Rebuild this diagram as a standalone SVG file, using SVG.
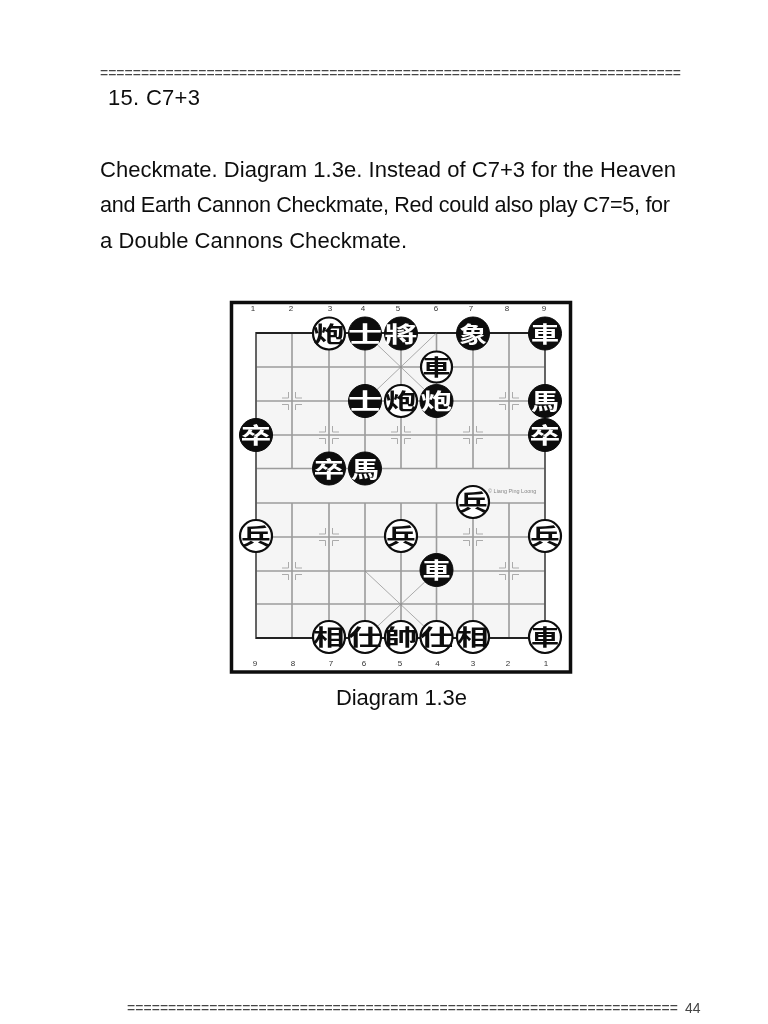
<svg xmlns="http://www.w3.org/2000/svg" width="768" height="1024" viewBox="0 0 768 1024">
<style>
.t{font-family:"Liberation Sans",Arial,sans-serif;fill:#111}
.b{font-size:22px}
.eq{font-size:14px;fill:#444}
.n{font-family:"Liberation Sans",Arial,sans-serif;font-size:8px;fill:#333;text-anchor:middle}
.g{stroke:#9c9c9c;stroke-width:1.6;fill:none}
.d{stroke:#8a8a8a;stroke-width:.7;fill:none}
.m{stroke:#ababab;stroke-width:1;fill:none}
.pb{fill:#0a0a0a;stroke:#0a0a0a;stroke-width:1}
.pw{fill:#fff;stroke:#0a0a0a;stroke-width:2.2}
.lb,.lw{font-family:"Noto Sans CJK TC","Noto Sans CJK SC",sans-serif;font-size:28px;font-weight:700;text-anchor:middle}
.lb{fill:#fff}.lw{fill:#0a0a0a}
</style>
<defs><filter id="soft" x="-5%" y="-5%" width="110%" height="110%"><feGaussianBlur stdDeviation="0.35"/></filter></defs>
<rect width="768" height="1024" fill="#fff"/>
<g filter="url(#soft)">
<text class="t eq" x="100" y="77.500" textLength="581" lengthAdjust="spacing">=======================================================================</text>
<text class="t b" x="108" y="105" textLength="92" lengthAdjust="spacing">15. C7+3</text>
<text class="t b" x="100" y="176.500" textLength="576" lengthAdjust="spacing">Checkmate. Diagram 1.3e. Instead of C7+3 for the Heaven</text>
<text class="t b" x="100" y="212" style="font-size:21.600px" textLength="570" lengthAdjust="spacing">and Earth Cannon Checkmate, Red could also play C7=5, for</text>
<text class="t b" x="100" y="248" textLength="307" lengthAdjust="spacing">a Double Cannons Checkmate.</text>
<g id="board">
<rect x="231.500" y="302.500" width="339" height="369.500" fill="#fff" stroke="#111" stroke-width="3.500"/>
<rect x="256" y="333" width="289" height="305" fill="#f5f5f5"/>
<g>
<text class="n" x="253" y="311">1</text><text class="n" x="291" y="311">2</text><text class="n" x="330" y="311">3</text><text class="n" x="363" y="311">4</text><text class="n" x="398" y="311">5</text><text class="n" x="436" y="311">6</text><text class="n" x="471" y="311">7</text><text class="n" x="507" y="311">8</text><text class="n" x="544" y="311">9</text>
<text class="n" x="255" y="666">9</text><text class="n" x="293" y="666">8</text><text class="n" x="331" y="666">7</text><text class="n" x="364" y="666">6</text><text class="n" x="400" y="666">5</text><text class="n" x="437.500" y="666">4</text><text class="n" x="473" y="666">3</text><text class="n" x="508" y="666">2</text><text class="n" x="546" y="666">1</text>
</g>
<path class="g" d="M256 367H545M256 401H545M256 435H545M256 468.500H545M256 503H545M256 537H545M256 571H545M256 604H545"/>
<path class="g" d="M292 333V468.500M329 333V468.500M365 333V468.500M401 333V468.500M436.500 333V468.500M473 333V468.500M509 333V468.500M292 503V638M329 503V638M365 503V638M401 503V638M436.500 503V638M473 503V638M509 503V638"/>
<path d="M256 638V333H545V638Z" fill="none" stroke="#555" stroke-width="1.800"/>
<path d="M256 333H545M256 638H545" fill="none" stroke="#222" stroke-width="2"/>
<path class="d" d="M365 333L436.500 401M436.500 333L365 401M365 571L436.500 638M436.500 571L365 638"/>
<g class="m">
<path d="M282 398H288.500V392M295.500 392V398H302M282 404.500H288.500V410M295.500 410V404.500H302"/>
<path d="M499 398H505.500V392M512.500 392V398H519M499 404.500H505.500V410M512.500 410V404.500H519"/>
<path d="M319 432H325.500V426M332.500 426V432H339M319 438.500H325.500V444M332.500 444V438.500H339"/>
<path d="M391 432H397.500V426M404.500 426V432H411M391 438.500H397.500V444M404.500 444V438.500H411"/>
<path d="M463 432H469.500V426M476.500 426V432H483M463 438.500H469.500V444M476.500 444V438.500H483"/>
<path d="M319 534H325.500V528M332.500 528V534H339M319 540.500H325.500V546M332.500 546V540.500H339"/>
<path d="M463 534H469.500V528M476.500 528V534H483M463 540.500H469.500V546M476.500 546V540.500H483"/>
<path d="M282 568H288.500V562M295.500 562V568H302M282 574.500H288.500V580M295.500 580V574.500H302"/>
<path d="M499 568H505.500V562M512.500 562V568H519M499 574.500H505.500V580M512.500 580V574.500H519"/>
</g>
<text x="488" y="493" font-family="Liberation Sans,sans-serif" font-size="5.500" fill="#888">© Liang Ping Loong</text>
</g>
<g id="pieces">
<g id="p1"><circle class="pw" cx="329" cy="333.500" r="16"/><text class="lw" transform="translate(329 341.500) scale(1.12 .78)">炮</text></g>
<g id="p2"><circle class="pb" cx="365" cy="333.500" r="16.500"/><text class="lb" transform="translate(365 341.500) scale(1.22 .78)">士</text></g>
<g id="p3"><circle class="pb" cx="401" cy="333.500" r="16.500"/><text class="lb" transform="translate(401 341.500) scale(1.18 .78)">將</text></g>
<g id="p4"><circle class="pb" cx="473" cy="333.500" r="16.500"/><text class="lb" transform="translate(473 341.500) scale(1 .78)">象</text></g>
<g id="p5"><circle class="pb" cx="545" cy="333.500" r="16.500"/><text class="lb" transform="translate(545 341.500) scale(1 .78)">車</text></g>
<g id="p6"><circle class="pw" cx="436.500" cy="367" r="15.500"/><text class="lw" transform="translate(436.500 375) scale(1 .78)">車</text></g>
<g id="p7"><circle class="pb" cx="365" cy="401" r="16.500"/><text class="lb" transform="translate(365 409) scale(1.22 .78)">士</text></g>
<g id="p8"><circle class="pw" cx="401" cy="401" r="16"/><text class="lw" transform="translate(401 409) scale(1.12 .78)">炮</text></g>
<g id="p9"><circle class="pb" cx="436.500" cy="401" r="16.500"/><text class="lb" transform="translate(436.500 409) scale(1.12 .78)">炮</text></g>
<g id="p10"><circle class="pb" cx="545" cy="401" r="16.500"/><text class="lb" transform="translate(545 409) scale(1 .78)">馬</text></g>
<g id="p11"><circle class="pb" cx="256" cy="435" r="16.500"/><text class="lb" transform="translate(256 443) scale(1.1 .78)">卒</text></g>
<g id="p12"><circle class="pb" cx="545" cy="435" r="16.500"/><text class="lb" transform="translate(545 443) scale(1.1 .78)">卒</text></g>
<g id="p13"><circle class="pb" cx="329" cy="468.500" r="16.500"/><text class="lb" transform="translate(329 476.500) scale(1.1 .78)">卒</text></g>
<g id="p14"><circle class="pb" cx="365" cy="468.500" r="16.500"/><text class="lb" transform="translate(365 476.500) scale(1 .78)">馬</text></g>
<g id="p15"><circle class="pw" cx="473" cy="502" r="16"/><text class="lw" transform="translate(473 510) scale(1.05 .78)">兵</text></g>
<g id="p16"><circle class="pw" cx="256" cy="536" r="16"/><text class="lw" transform="translate(256 544) scale(1.05 .78)">兵</text></g>
<g id="p17"><circle class="pw" cx="401" cy="536" r="16"/><text class="lw" transform="translate(401 544) scale(1.05 .78)">兵</text></g>
<g id="p18"><circle class="pw" cx="545" cy="536" r="16"/><text class="lw" transform="translate(545 544) scale(1.05 .78)">兵</text></g>
<g id="p19"><circle class="pb" cx="436.500" cy="570" r="16.500"/><text class="lb" transform="translate(436.500 578) scale(1 .78)">車</text></g>
<g id="p20"><circle class="pw" cx="329" cy="637" r="16"/><text class="lw" transform="translate(329 645) scale(1.12 .78)">相</text></g>
<g id="p21"><circle class="pw" cx="365" cy="637" r="16"/><text class="lw" transform="translate(365 645) scale(1.22 .78)">仕</text></g>
<g id="p22"><circle class="pw" cx="401" cy="637" r="16"/><text class="lw" transform="translate(401 645) scale(1.18 .78)">帥</text></g>
<g id="p23"><circle class="pw" cx="436.500" cy="637" r="16"/><text class="lw" transform="translate(436.500 645) scale(1.22 .78)">仕</text></g>
<g id="p24"><circle class="pw" cx="473" cy="637" r="16"/><text class="lw" transform="translate(473 645) scale(1.12 .78)">相</text></g>
<g id="p25"><circle class="pw" cx="545" cy="637" r="16"/><text class="lw" transform="translate(545 645) scale(1 .78)">車</text></g>
</g>
<text class="t b" x="336" y="705" textLength="131" lengthAdjust="spacing">Diagram 1.3e</text>
<text class="t eq" x="127" y="1012.500" textLength="551" lengthAdjust="spacing">===================================================================</text>
<text class="t" x="685" y="1012.500" font-size="14" style="fill:#444">44</text>
</g>
</svg>
